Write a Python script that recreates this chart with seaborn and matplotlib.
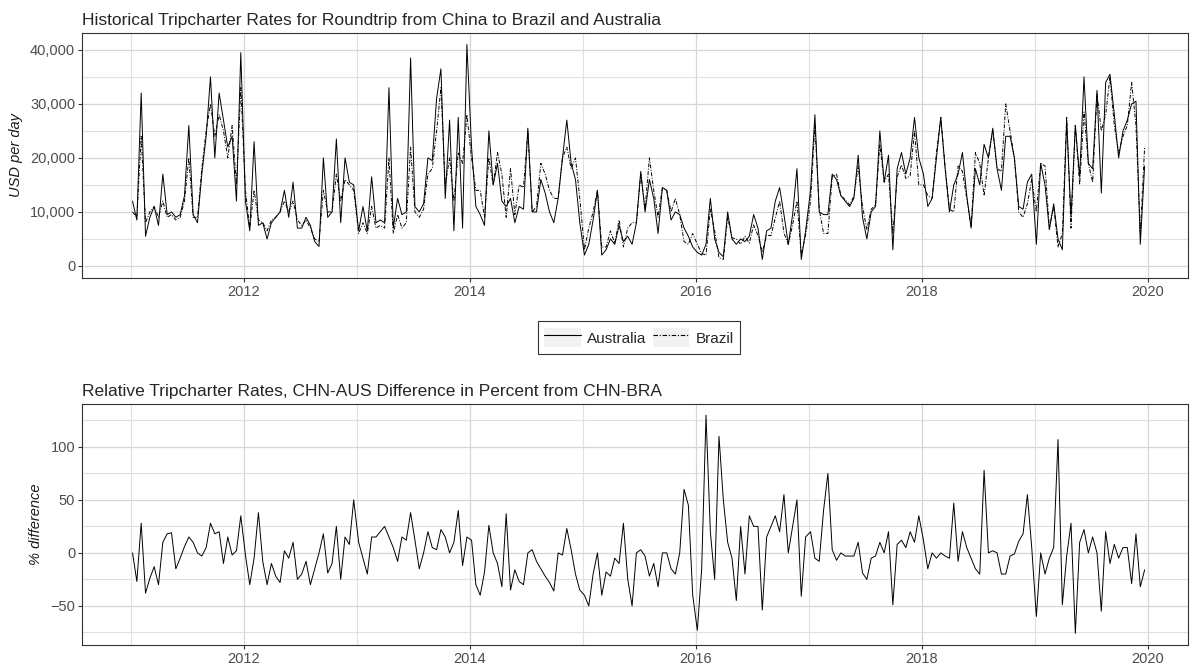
import numpy as np
import pandas as pd
import seaborn as sns
import matplotlib.pyplot as plt
import matplotlib.dates as mdates
from matplotlib.lines import Line2D
from matplotlib.patches import Rectangle
from matplotlib.legend_handler import HandlerTuple
from matplotlib.ticker import FuncFormatter, MultipleLocator

# Biweekly readings, 26 per year
years = list(range(2011, 2020))

# CHN-AUS roundtrip, USD per day
aus_2011 = [12000, 8500, 32000, 5500, 9000, 11000, 7500, 17000, 9500, 10000, 9000, 9500, 13000,
            26000, 9500, 8000, 17000, 24000, 35000, 20000, 32000, 27000, 22000, 24000, 12000, 39500]
aus_2012 = [12000, 6500, 23000, 7500, 8000, 5000, 8000, 9000, 10000, 14000, 9000, 15500, 7000,
            7000, 9000, 7500, 4500, 3600, 20000, 9000, 10000, 23500, 8000, 20000, 15500, 15000]
aus_2013 = [6500, 11000, 6500, 16500, 8000, 8500, 8000, 33000, 7000, 12500, 9500, 10000, 38500,
            11000, 10000, 11500, 20000, 19500, 31000, 36500, 12500, 27000, 6500, 27500, 7000, 41000]
aus_2014 = [22000, 11000, 9500, 7500, 25000, 15000, 19000, 12000, 11000, 12500, 8000, 11000, 10500,
            25500, 10000, 10000, 16000, 13500, 10000, 8000, 12500, 20000, 27000, 19000, 16000, 8000]
aus_2015 = [2000, 4000, 8500, 14000, 2000, 3000, 5000, 4000, 7500, 4500, 5500, 4000, 8000,
            17500, 10000, 16000, 12500, 6000, 14500, 14000, 8500, 10000, 9500, 7000, 5500, 3500]
aus_2016 = [2500, 2000, 4000, 12500, 5000, 2500, 1700, 10000, 5000, 4000, 5000, 4500, 5500,
            9500, 7000, 1200, 6500, 7000, 12000, 14500, 9500, 4000, 9500, 18000, 1200, 6500]
aus_2017 = [14000, 28000, 10000, 9500, 9500, 17000, 16000, 13000, 12000, 11000, 12500, 20500, 9000,
            5000, 10000, 11000, 25000, 15500, 20500, 3000, 18000, 21000, 17000, 20000, 27500, 20000]
aus_2018 = [17000, 11000, 12500, 20000, 27500, 18000, 10000, 15000, 17000, 21000, 13000, 7000, 18000,
            15000, 22500, 20000, 25500, 18000, 14000, 24000, 24000, 20000, 11000, 10500, 15500, 17000]
aus_2019 = [4000, 19000, 15000, 6700, 11500, 5000, 3000, 27000, 9000, 26000, 16500, 35000, 19000,
            18000, 32500, 13500, 34000, 35500, 28000, 20000, 25000, 27000, 30000, 30500, 4000, 18500]

# CHN-BRA roundtrip, USD per day
bra_2011 = [10000, 9000, 24000, 8000, 10000, 11000, 9000, 12000, 9000, 9500, 8500, 9000, 12000,
            20000, 9000, 9000, 18000, 25000, 30000, 24000, 28000, 25000, 20000, 26000, 15000, 33000]
bra_2012 = [14000, 7000, 14000, 8500, 8000, 6500, 8500, 9000, 10000, 12000, 10000, 12000, 8500,
            7500, 8500, 7000, 5000, 4500, 14000, 10000, 10000, 17000, 12000, 16000, 15000, 14000]
bra_2013 = [6000, 8000, 6000, 11000, 7000, 7500, 7000, 20000, 6000, 9500, 7000, 8000, 22000,
            10000, 9000, 10500, 17000, 18000, 25000, 33000, 15000, 20000, 12000, 21000, 19000, 28000]
bra_2014 = [20000, 14000, 14000, 9000, 20000, 15000, 21000, 17000, 9000, 18000, 9500, 15000, 14500,
            25000, 10000, 11000, 19000, 17000, 14000, 12500, 12500, 20000, 22000, 18000, 20000, 12500]
bra_2015 = [3000, 7000, 10000, 14000, 3500, 3500, 6500, 4200, 8500, 3500, 7000, 8000, 8000,
            17000, 10500, 20000, 14000, 9000, 14500, 14000, 10000, 12500, 9500, 4500, 4000, 6000]
bra_2016 = [4000, 2300, 2000, 10500, 6500, 1500, 1200, 9000, 5200, 5000, 4000, 5500, 4200,
            7600, 5600, 2600, 5700, 5600, 8900, 12000, 6100, 4000, 7600, 12000, 2000, 5700]
bra_2017 = [12000, 26000, 10500, 6000, 6000, 16500, 17000, 13000, 12300, 11300, 12900, 18500, 11000,
            6700, 10500, 11300, 22500, 15500, 17000, 6000, 16500, 18700, 16200, 16700, 25000, 15000]
bra_2018 = [15000, 13000, 12500, 21000, 27500, 18500, 10500, 10000, 18500, 17500, 12400, 7400, 21000,
            19000, 13000, 20000, 25000, 18000, 17500, 30000, 25000, 20000, 10000, 9000, 11500, 16000]
bra_2019 = [10000, 19000, 18500, 7000, 11000, 3500, 6000, 27500, 7000, 26000, 15000, 28500, 19000,
            15500, 32000, 25000, 28000, 35000, 26000, 21000, 24000, 26000, 34000, 26000, 6000, 22000]

# CHN-AUS difference in percent from CHN-BRA
pct_2011 = [0, -27, 28, -38, -24, -13, -30, 10, 18, 19, -15, -5, 6,
            15, 10, 0, -3, 5, 28, 18, 20, -10, 15, -2, 2, 35]
pct_2012 = [-2, -30, -5, 38, -8, -30, -10, -22, -28, 2, -5, 10, -25,
            -20, -8, -30, -15, 0, 18, -19, -10, 25, -25, 15, 8, 50]
pct_2013 = [10, -5, -20, 15, 15, 20, 25, 15, 5, -8, 15, 12, 38,
            12, -15, 0, 20, 5, 3, 22, 15, 0, 10, 40, -12, 15]
pct_2014 = [12, -30, -40, -18, 26, 0, -10, -32, 37, -35, -16, -27, -30,
            0, 3, -8, -15, -22, -28, -36, 0, -2, 23, 3, -20, -35]
pct_2015 = [-40, -50, -20, 0, -40, -18, -22, -5, -10, 28, -25, -50, 0,
            3, -3, -22, -10, -32, 0, 0, -15, -20, 0, 60, 45, -40]
pct_2016 = [-73, -15, 130, 20, -25, 110, 50, 10, -5, -45, 25, -20, 35,
            25, 25, -54, 15, 25, 35, 20, 55, 0, 25, 50, -41, 15]
pct_2017 = [20, -5, -8, 40, 75, 3, -7, 0, -3, -3, -3, 10, -19,
            -25, -5, -3, 10, 0, 20, -49, 8, 12, 5, 20, 10, 35]
pct_2018 = [12, -15, 0, -5, 0, -3, -5, 47, -8, 20, 5, -5, -15,
            -20, 78, 0, 2, 0, -20, -20, -3, -1, 11, 18, 55, 5]
pct_2019 = [-60, 0, -20, -5, 5, 107, -49, -3, 28, -76, 10, 22, 0,
            15, 0, -55, 20, -10, 8, -5, 5, 5, -29, 18, -32, -16]

aus = sum([aus_2011, aus_2012, aus_2013, aus_2014, aus_2015, aus_2016, aus_2017, aus_2018, aus_2019], [])
bra = sum([bra_2011, bra_2012, bra_2013, bra_2014, bra_2015, bra_2016, bra_2017, bra_2018, bra_2019], [])
pct = sum([pct_2011, pct_2012, pct_2013, pct_2014, pct_2015, pct_2016, pct_2017, pct_2018, pct_2019], [])

dates = pd.DatetimeIndex(np.concatenate(
    [pd.date_range(f'{y}-01-06', periods=26, freq='14D') for y in years]))

rates = pd.DataFrame({'date': dates, 'Australia': aus, 'Brazil': bra})
rates = rates.melt(id_vars='date', var_name='route', value_name='usd')
diff = pd.DataFrame({'date': dates, 'pct': pct})

sns.set_theme(style='white')
plt.rcParams['font.family'] = ['Liberation Sans', 'DejaVu Sans']

fig = plt.figure(figsize=(11.9, 6.71), dpi=100)
ax1 = fig.add_axes([0.069, 0.586, 0.929, 0.365])
ax2 = fig.add_axes([0.069, 0.039, 0.929, 0.359])

dash_map = {'Australia': '', 'Brazil': (4, 1.6, 1, 1.6)}
sns.lineplot(data=rates, x='date', y='usd', style='route', dashes=dash_map,
             color='black', lw=0.7, estimator=None, legend=False, ax=ax1)
sns.lineplot(data=diff, x='date', y='pct', color='black', lw=0.7,
             estimator=None, ax=ax2)

xlo, xhi = pd.Timestamp('2010-07-27'), pd.Timestamp('2020-05-09')


def style_axes(ax):
    ax.set_xlim(xlo, xhi)
    ax.xaxis.set_major_locator(mdates.YearLocator(2))
    ax.xaxis.set_minor_locator(mdates.YearLocator(1))
    ax.xaxis.set_major_formatter(mdates.DateFormatter('%Y'))
    ax.grid(which='major', color='#d6d6d6', lw=0.9)
    ax.grid(which='minor', color='#e0e0e0', lw=0.8)
    ax.set_axisbelow(True)
    ax.tick_params(which='major', length=3, width=0.8, color='#333333',
                   labelcolor='#4d4d4d', labelsize=10.5, pad=2)
    ax.tick_params(which='minor', length=0)
    ax.tick_params(axis='x', bottom=True)
    ax.tick_params(axis='y', left=True)
    for s in ax.spines.values():
        s.set_visible(True)
        s.set_color('#333333')
        s.set_linewidth(0.8)
    ax.set_xlabel('')


style_axes(ax1)
ax1.set_ylim(-2200, 43150)
ax1.yaxis.set_major_locator(MultipleLocator(10000))
ax1.yaxis.set_minor_locator(MultipleLocator(5000))
ax1.yaxis.set_major_formatter(FuncFormatter(lambda v, p: f'{int(v):,}'))
ax1.set_ylabel('USD per day', fontstyle='italic', fontsize=10.5, color='#1a1a1a', labelpad=5)
ax1.set_title('Historical Tripcharter Rates for Roundtrip from China to Brazil and Australia',
              loc='left', fontsize=12.5, pad=6)

style_axes(ax2)
ax2.set_ylim(-86.8, 140.6)
ax2.yaxis.set_major_locator(MultipleLocator(50))
ax2.yaxis.set_minor_locator(MultipleLocator(25))
ax2.set_ylabel('% difference', fontstyle='italic', fontsize=10.5, color='#1a1a1a', labelpad=5)
ax2.set_title('Relative Tripcharter Rates, CHN-AUS Difference in Percent from CHN-BRA',
              loc='left', fontsize=12.5, pad=6)

# legend keys with a light grey background, like the reference
handles = []
for r in ['Australia', 'Brazil']:
    key_bg = Rectangle((0, 0), 1, 1, facecolor='#f2f2f2', edgecolor='none')
    ls = (0, dash_map[r]) if dash_map[r] else '-'
    handles.append((key_bg, Line2D([], [], color='black', lw=0.8, linestyle=ls)))
leg = fig.legend(handles, ['Australia', 'Brazil'], loc='center', bbox_to_anchor=(0.537, 0.497),
                 ncol=2, frameon=True, fancybox=False, fontsize=11, handlelength=2.4,
                 handleheight=1.6, columnspacing=0.4, handletextpad=0.4, borderpad=0.45,
                 handler_map={tuple: HandlerTuple(ndivide=1, pad=0)})
leg.get_frame().set_edgecolor('black')
leg.get_frame().set_linewidth(0.8)

fig.savefig('out.png', dpi=100)
